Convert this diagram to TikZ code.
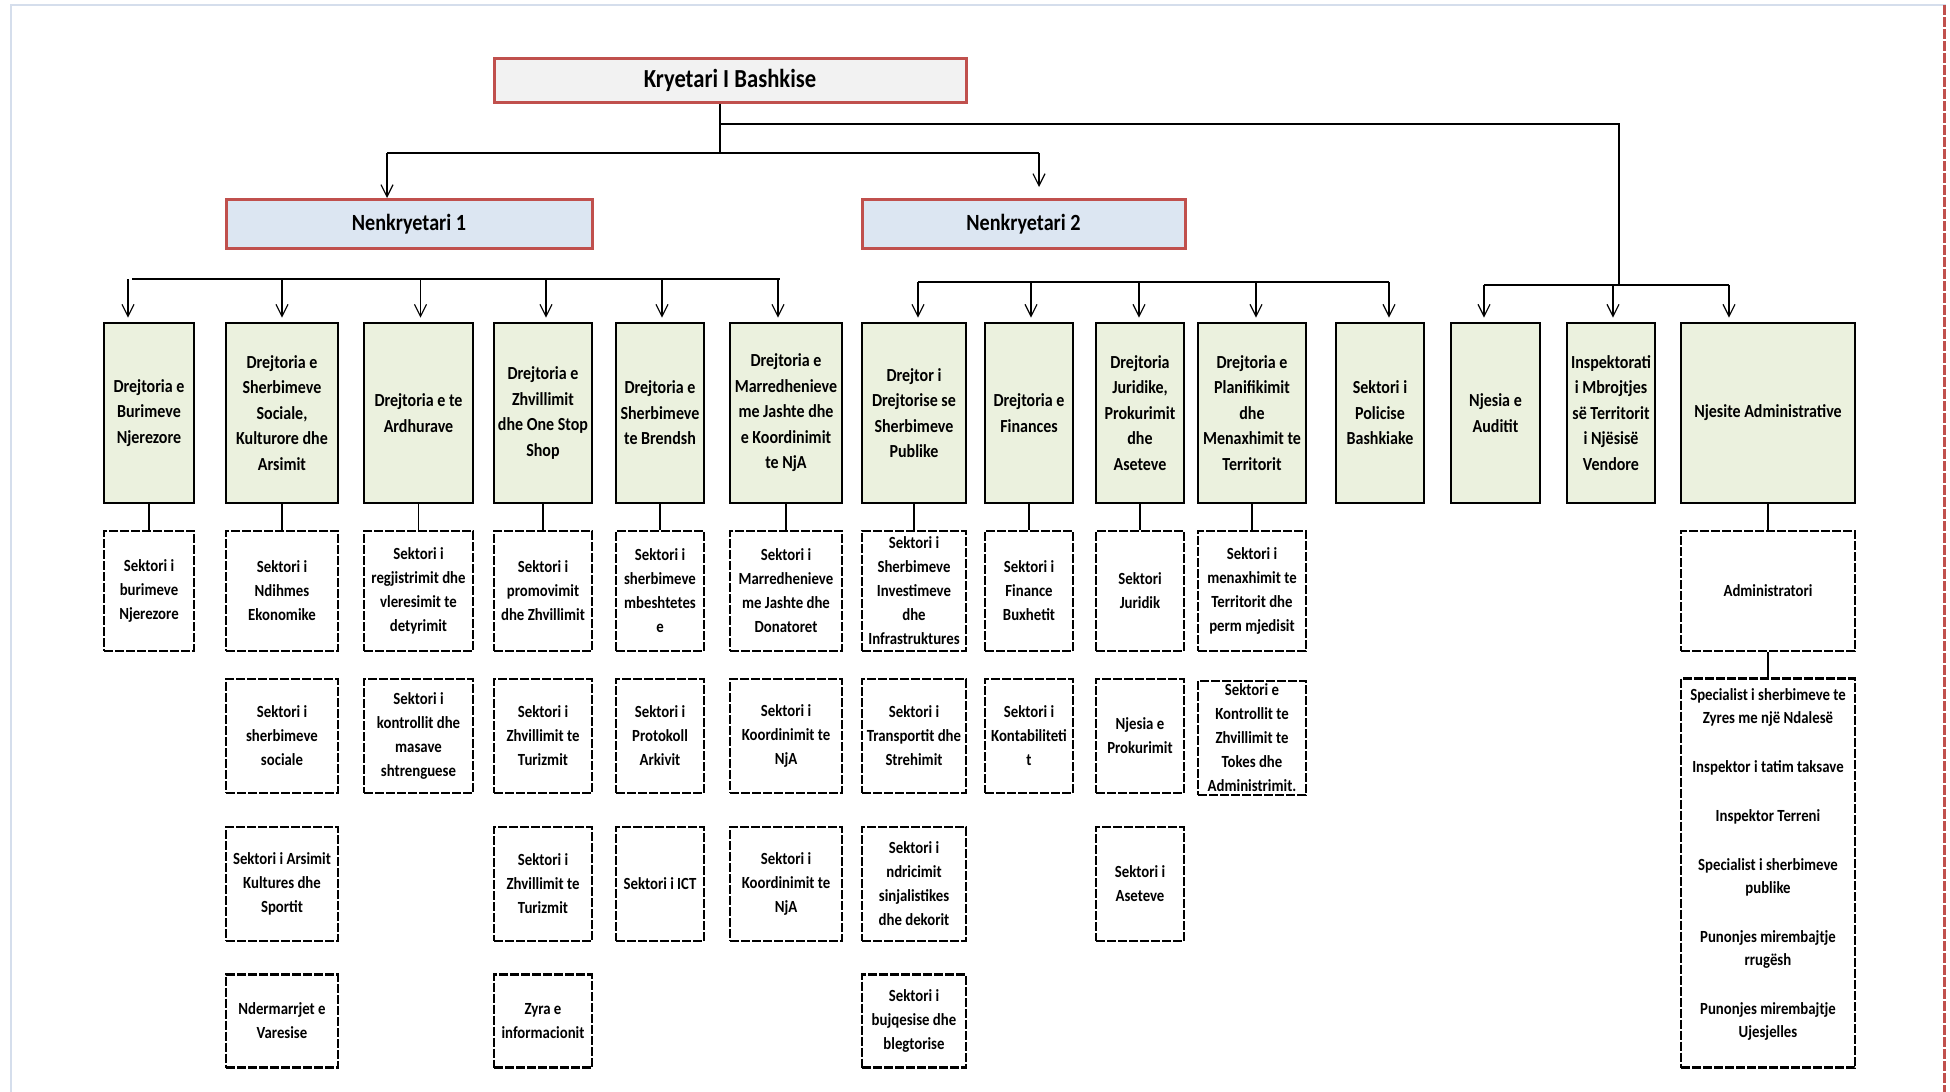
\documentclass[tikz,border=0pt]{standalone}
\usepackage{fontspec}
\setmainfont{Carlito}[FakeStretch=0.87]
\usetikzlibrary{arrows.meta,calc}
\definecolor{boxred}{HTML}{C0504D}
\definecolor{headgray}{HTML}{F2F2F2}
\definecolor{subblue}{HTML}{DCE6F2}
\definecolor{dirgreen}{HTML}{EBF1DE}
\definecolor{pageline}{HTML}{D5DEEC}
\begin{document}
\begin{tikzpicture}[x=0.5pt,y=-0.5pt,
  head/.style={draw=boxred, line width=1.5pt, align=center},
  dirbox/.style={draw, line width=1.3pt, fill=dirgreen, minimum height=90pt, minimum width=#1pt,
    inner xsep=1pt, align=center, font=\bfseries\fontsize{9.2}{12.75}\selectfont},
  sbox/.style={draw, line width=1.2pt, dash pattern=on 4.5pt off 1pt, minimum width=#1pt,
    inner xsep=1pt, align=center, font=\bfseries\fontsize{8.5}{12}\selectfont},
  rowa/.style={minimum height=60pt}, rowb/.style={minimum height=57pt},
  rowd/.style={minimum height=46.5pt},
  arr/.style={-{Straight Barb[length=6pt,width=6pt]}, line width=0.6pt, shorten >=2pt},
  bar/.style={line width=1pt}, link/.style={line width=0.6pt}]
\useasboundingbox (0,0) rectangle (1950,1092);
% page edges
\draw[pageline, line width=1pt] (11,1092) -- (11,5) -- (1946,5);
\draw[boxred, line width=1.5pt, dash pattern=on 5pt off 1pt] (1944,5) -- (1944,1092);
% top levels
\node[head, fill=headgray, minimum width=236pt, minimum height=22pt, font=\bfseries\fontsize{13}{15}\selectfont] (kryetari) at (730,80) {Kryetari I Bashkise};
\node[head, fill=subblue, minimum width=183pt, minimum height=24.5pt, font=\bfseries\fontsize{11.6}{14}\selectfont] (nk1) at (409,224) {Nenkryetari 1};
\node[head, fill=subblue, minimum width=161.5pt, minimum height=24.5pt, font=\bfseries\fontsize{11.6}{14}\selectfont] (nk2) at (1023.5,224) {Nenkryetari 2};
\coordinate (kr) at ($(kryetari.south)+(-10,0)$);
\coordinate (kA) at (kr |- 0,153); \coordinate (kB) at (kr |- 0,124);
\coordinate (nL) at (387,153); \coordinate (nR) at (1039,153);
\coordinate (kC) at (1619,124);
\draw[link] (kr) -- (kA);
\draw[link] (nL) -- (nR);
\draw[arr, shorten >=0pt] (nL) -- (nL |- nk1.north);
\draw[arr, shorten >=5.5pt] (nR) -- (nR |- nk2.north);
% directorates
\node[dirbox=45] (d1) at (149,413) {Drejtoria e\\Burimeve\\Njerezore};
\node[dirbox=56] (d2) at (282,413) {Drejtoria e\\Sherbimeve\\Sociale,\\Kulturore dhe\\Arsimit};
\node[dirbox=54.5] (d3) at (418.5,413) {Drejtoria e te\\Ardhurave};
\node[dirbox=49] (d4) at (543,413) {Drejtoria e\\Zhvillimit\\dhe One Stop\\Shop};
\node[dirbox=44] (d5) at (660,413) {Drejtoria e\\Sherbimeve\\te Brendsh};
\node[dirbox=56] (d6) at (786,413) {Drejtoria e\\Marredhenieve\\me Jashte dhe\\e Koordinimit\\te NjA};
\node[dirbox=52] (d7) at (914,413) {Drejtor i\\Drejtorise se\\Sherbimeve\\Publike};
\node[dirbox=44] (d8) at (1029,413) {Drejtoria e\\Finances};
\node[dirbox=44] (d9) at (1140,413) {Drejtoria\\Juridike,\\Prokurimit\\dhe\\Aseteve};
\node[dirbox=54] (d10) at (1252,413) {Drejtoria e\\Planifikimit\\dhe\\Menaxhimit te\\Territorit};
\node[dirbox=44] (d11) at (1380,413) {Sektori i\\Policise\\Bashkiake};
\node[dirbox=44.5] (d12) at (1495.5,413) {Njesia e\\Auditit};
\node[dirbox=44] (d13) at (1611,413) {Inspektorati\\i Mbrojtjes\\së Territorit\\i Njësisë\\Vendore};
\node[dirbox=87] (d14) at (1768,413) {Njesite Administrative};
% bars and arrows
\coordinate (bA) at (132,279); \coordinate (bA2) at (780,279);
\coordinate (bB) at (918,282); \coordinate (bB2) at (1389,282);
\coordinate (bC) at (1484,285); \coordinate (bC2) at (1729,285);
\draw[bar] (bA) -- (bA2); \draw[bar] (bB) -- (bB2); \draw[bar] (bC) -- (bC2);
\draw[link] (kB) -- (kC) -- (kC |- bC);
\foreach \n/\dx in {d1/-21,d2/0,d3/2,d4/3,d5/2,d6/-8}
  \draw[arr] ($(\n.north |- bA)+(\dx,0)$) -- ($(\n.north)+(\dx,0)$);
\foreach \n/\dx in {d7/4,d8/2,d9/-1,d10/4,d11/9}
  \draw[arr] ($(\n.north |- bB)+(\dx,0)$) -- ($(\n.north)+(\dx,0)$);
\foreach \n/\dx in {d12/-11.5,d13/2,d14/-39}
  \draw[arr] ($(\n.north |- bC)+(\dx,0)$) -- ($(\n.north)+(\dx,0)$);
% sectors, first row
\node[sbox=45, rowa] (ua1) at (d1 |- 0,591) {Sektori i\\burimeve\\Njerezore};
\node[sbox=56, rowa] (ua2) at (d2 |- 0,591) {Sektori i\\Ndihmes\\Ekonomike};
\node[sbox=54.5, rowa] (ua3) at (d3 |- 0,591) {Sektori i\\regjistrimit dhe\\vleresimit te\\detyrimit};
\node[sbox=49, rowa] (ua4) at (d4 |- 0,591) {Sektori i\\promovimit\\dhe Zhvillimit};
\node[sbox=44, rowa] (ua5) at (d5 |- 0,591) {Sektori i\\sherbimeve\\mbeshtetes\\e};
\node[sbox=56, rowa] (ua6) at (d6 |- 0,591) {Sektori i\\Marredhenieve\\me Jashte dhe\\Donatoret};
\node[sbox=52, rowa, inner ysep=0pt] (ua7) at (d7 |- 0,591) {Sektori i\\Sherbimeve\\Investimeve\\dhe\\Infrastruktures};
\node[sbox=44, rowa] (ua8) at (d8 |- 0,591) {Sektori i\\Finance\\Buxhetit};
\node[sbox=44, rowa] (ua9) at (d9 |- 0,591) {Sektori\\Juridik};
\node[sbox=54, rowa] (ua10) at (d10 |- 0,591) {Sektori i\\menaxhimit te\\Territorit dhe\\perm mjedisit};
\node[sbox=87, rowa] (ua14) at (d14 |- 0,591) {Administratori};
% second row
\node[sbox=56, rowb] (ub2) at (d2 |- 0,736) {Sektori i\\sherbimeve\\sociale};
\node[sbox=54.5, rowb] (ub3) at (d3 |- 0,736) {Sektori i\\kontrollit dhe\\masave\\shtrenguese};
\node[sbox=49, rowb] (ub4) at (d4 |- 0,736) {Sektori i\\Zhvillimit te\\Turizmit};
\node[sbox=44, rowb] (ub5) at (d5 |- 0,736) {Sektori i\\Protokoll\\Arkivit};
\node[sbox=56, rowb] (ub6) at (d6 |- 0,736) {Sektori i\\Koordinimit te\\NjA};
\node[sbox=52, rowb] (ub7) at (d7 |- 0,736) {Sektori i\\Transportit dhe\\Strehimit};
\node[sbox=44, rowb] (ub8) at (d8 |- 0,736) {Sektori i\\Kontabiliteti\\t};
\node[sbox=44, rowb] (ub9) at (d9 |- 0,736) {Njesia e\\Prokurimit};
\node[sbox=54, rowb, inner ysep=-4pt] (ub10) at (d10 |- 0,738) {Sektori e\\Kontrollit te\\Zhvillimit te\\Tokes dhe\\Administrimit.};
% third row
\node[sbox=56, rowb] (uc2) at (d2 |- 0,884) {Sektori i Arsimit\\Kultures dhe\\Sportit};
\node[sbox=49, rowb] (uc4) at (d4 |- 0,884) {Sektori i\\Zhvillimit te\\Turizmit};
\node[sbox=44, rowb] (uc5) at (d5 |- 0,884) {Sektori i ICT};
\node[sbox=56, rowb] (uc6) at (d6 |- 0,884) {Sektori i\\Koordinimit te\\NjA};
\node[sbox=52, rowb] (uc7) at (d7 |- 0,884) {Sektori i\\ndricimit\\sinjalistikes\\dhe dekorit};
\node[sbox=44, rowb] (uc9) at (d9 |- 0,884) {Sektori i\\Aseteve};
% fourth row
\node[sbox=56, rowd] (ud2) at (d2 |- 0,1021) {Ndermarrjet e\\Varesise};
\node[sbox=49, rowd] (ud4) at (d4 |- 0,1021) {Zyra e\\informacionit};
\node[sbox=52, rowd] (ud7) at (d7 |- 0,1021) {Sektori i\\bujqesise dhe\\blegtorise};
% administrative units
\node[sbox=87, minimum height=194.5pt] (ub14) at (d14 |- 0,873) {};
\node[align=center, font=\bfseries\fontsize{8.5}{11.5}\selectfont] (adm) at (d14 |- 0,864)
  {Specialist i sherbimeve te\\Zyres me një Ndalesë\\[13pt]Inspektor i tatim taksave\\[13pt]Inspektor Terreni\\[13pt]Specialist i sherbimeve\\publike\\[13pt]Punonjes mirembajtje\\rrugësh\\[13pt]Punonjes mirembajtje\\Ujesjelles};
\foreach \n in {1,...,10,14}
  \draw[link] (d\n.south) -- (ua\n.north);
\draw[link] (ua14.south) -- (ub14.north);
\end{tikzpicture}
\end{document}
